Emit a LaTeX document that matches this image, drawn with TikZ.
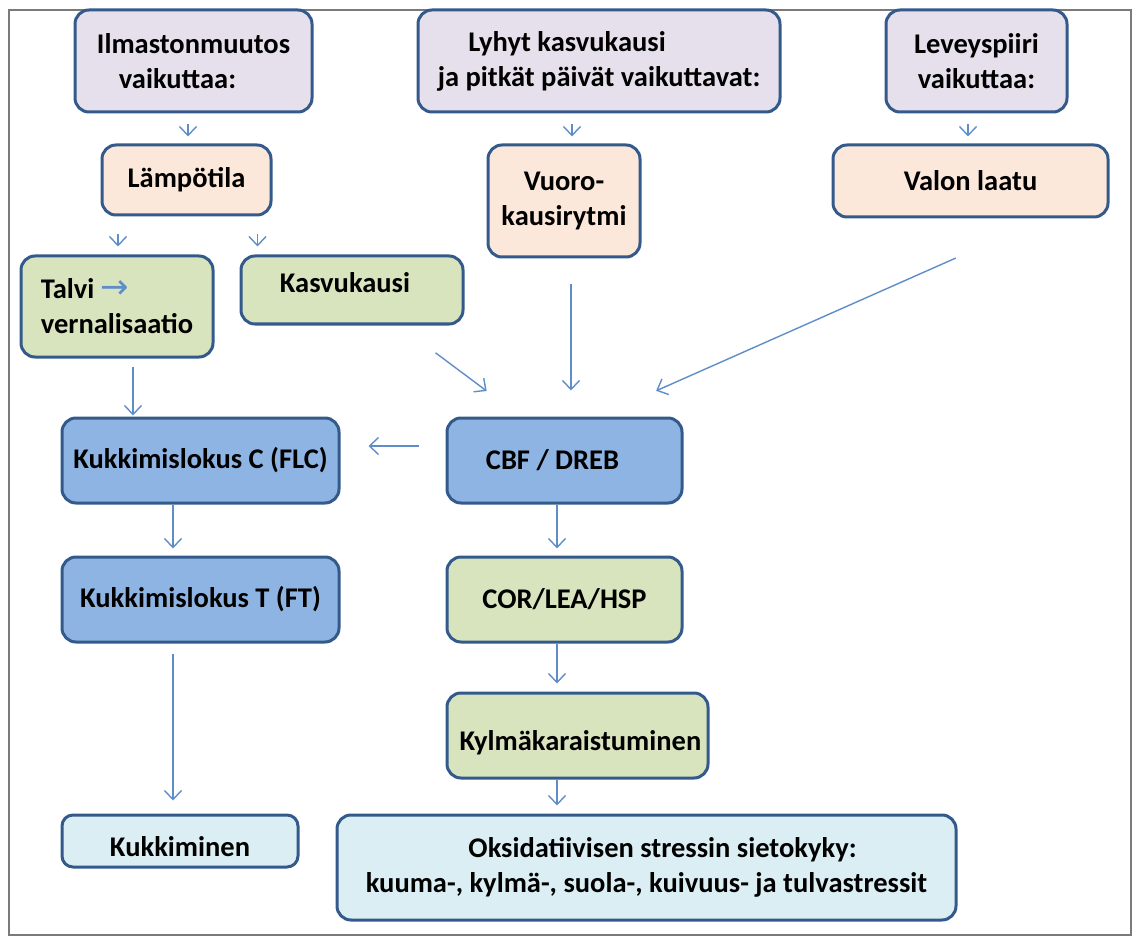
\documentclass[tikz,border=0pt]{standalone}
\usepackage{fontspec}
\setmainfont{Carlito}
\newfontfamily\symf{DejaVu Sans}
\usetikzlibrary{arrows.meta}
\definecolor{bord}{HTML}{335A8A}
\definecolor{arr}{HTML}{5F8DC9}
\definecolor{lav}{HTML}{E6E0EC}
\definecolor{peach}{HTML}{FCE8DA}
\definecolor{grn}{HTML}{D7E4BD}
\definecolor{blu}{HTML}{8EB4E3}
\definecolor{cyn}{HTML}{DAEEF3}
\definecolor{frm}{HTML}{7A7A7A}
\tikzset{
  box/.style={draw=bord, line width=3pt, rounded corners=14pt, inner sep=0pt,
    align=center, text=black, font=\fontsize{28.5}{35}\selectfont\bfseries},
  conn/.style={draw=arr, line width=1.4pt, -{Straight Barb[length=9pt,width=17pt]}}
}
\newcommand{\lowtext}[2]{\smash{\raisebox{-#1}{#2}}}
\begin{document}
\begin{tikzpicture}[x=1pt,y=-1pt]
\useasboundingbox (0,0) rectangle (1136,936);
\draw[frm, line width=1.8pt] (9,10) rectangle (1131,935);

% top row
\node[box, fill=lav, minimum width=237pt, minimum height=102pt] (ilm) at (193.5,61)
  {Ilmastonmuutos\\vaikuttaa:\hspace*{32pt}};
\node[box, fill=lav, minimum width=362pt, minimum height=102pt] (lyhyt) at (599,61)
  {Lyhyt kasvukausi\hspace*{64pt}\\ja pitkät päivät vaikuttavat:};
\node[box, fill=lav, minimum width=181pt, minimum height=102pt] (lev) at (976.5,61)
  {Leveyspiiri\\vaikuttaa:};

% second row
\node[box, fill=peach, minimum width=169pt, minimum height=70pt] (lamp) at (186.5,180)
  {Lämpötila};
\node[box, fill=peach, minimum width=152pt, minimum height=112pt] (vuoro) at (564,201)
  {Vuoro-\\kausirytmi};
\node[box, fill=peach, minimum width=275pt, minimum height=72pt] (valon) at (970.5,181)
  {Valon laatu};

% third row
\node[box, fill=grn, minimum width=192pt, minimum height=101pt, align=left] (talvi) at (117,306.5)
  {Talvi {\color{arr}\fontsize{34}{35}\symf\mdseries →}\\vernalisaatio};
\node[box, fill=grn, minimum width=222pt, minimum height=68pt] (kasvu) at (352,290)
  {\lowtext{3pt}{Kasvukausi}\hspace*{14pt}};

% middle rows
\node[box, fill=blu, minimum width=235pt, minimum height=85pt] (cbf) at (564.5,460.5)
  {CBF / DREB\hspace*{24pt}};
\node[box, fill=blu, minimum width=277pt, minimum height=85pt] (kukC) at (200.5,460.5)
  {Kukkimislokus C (FLC)};
\node[box, fill=blu, minimum width=277pt, minimum height=85pt] (kukT) at (200.5,599.5)
  {Kukkimislokus T (FT)};
\node[box, fill=grn, minimum width=235pt, minimum height=85pt] (cor) at (564.5,599.5)
  {COR/LEA/HSP};
\node[box, fill=grn, minimum width=261pt, minimum height=85pt] (kylma) at (577.5,735.5)
  {\hspace*{6pt}\lowtext{14.5pt}{Kylmäkaraistuminen}};

% bottom row
\node[box, fill=cyn, minimum width=236pt, minimum height=52pt, rounded corners=11pt] (kukkim) at (180,841)
  {\lowtext{15pt}{Kukkiminen}};
\node[box, fill=cyn, minimum width=619pt, minimum height=105pt] (oksid) at (646.5,867.5)
  {\hspace*{32pt}Oksidatiivisen stressin sietokyky:\\kuuma-, kylmä-, suola-, kuivuus- ja tulvastressit};

% connectors
\draw[conn, shorten <=11pt, shorten >=7pt] ([xshift=1.5pt]lamp.north |- ilm.south) -- ([xshift=1.5pt]lamp.north);
\draw[conn, shorten <=11pt, shorten >=7pt] ([xshift=8pt]vuoro.north |- lyhyt.south) -- ([xshift=8pt]vuoro.north);
\draw[conn, shorten <=11pt, shorten >=7pt] ([xshift=-2.5pt]valon.north |- lev.south) -- ([xshift=-2.5pt]valon.north);
\draw[conn, shorten <=18pt, shorten >=8pt] ([xshift=1pt]talvi.north |- lamp.south) -- ([xshift=1pt]talvi.north);
\draw[conn, shorten <=18pt, shorten >=8pt] ([xshift=-15pt]lamp.south east) -- ([xshift=-15pt]lamp.south east |- kasvu.north);
\draw[conn, shorten <=8pt, shorten >=1pt] ([xshift=16pt]talvi.south) -- ([xshift=16pt]talvi.south |- kukC.north);
\draw[conn, shorten <=45.6pt, shorten >=42.6pt] ([xshift=47pt]kasvu.south) -- ([xshift=-43.7pt]cbf.north);
\draw[conn, shorten <=26pt, shorten >=26pt] ([xshift=6.5pt]cbf.north |- vuoro.south) -- ([xshift=6.5pt]cbf.north);
\draw[conn, shorten <=97.6pt, shorten >=63.4pt] ([xshift=74.5pt]valon.south) -- ([xshift=33.7pt]cbf.north);
\draw[conn, shorten <=27pt, shorten >=28pt] ([yshift=14.5pt]cbf.west) -- ([yshift=14.5pt]cbf.west -| kukC.east);
\draw[conn, shorten <=0pt, shorten >=7pt] ([xshift=-27.5pt]kukC.south) -- ([xshift=-27.5pt]kukC.south |- kukT.north);
\draw[conn, shorten <=10pt, shorten >=13pt] ([xshift=-27.5pt]kukT.south) -- ([xshift=-27.5pt]kukT.south |- kukkim.north);
\draw[conn, shorten <=0pt, shorten >=7pt] ([xshift=-7.5pt]cbf.south) -- ([xshift=-7.5pt]cbf.south |- cor.north);
\draw[conn, shorten <=0pt, shorten >=8pt] ([xshift=-7.5pt]cor.south) -- ([xshift=-7.5pt]cor.south |- kylma.north);
\draw[conn, shorten <=0pt, shorten >=8pt] ([xshift=-7.5pt]cor.south |- kylma.south) -- ([xshift=-7.5pt]cor.south |- oksid.north);
\end{tikzpicture}
\end{document}
